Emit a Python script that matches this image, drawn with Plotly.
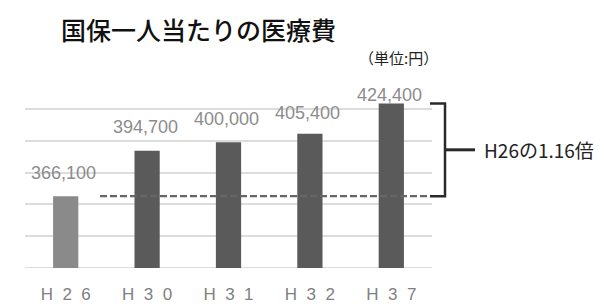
import plotly.graph_objects as go

categories = ["H26", "H30", "H31", "H32", "H37"]
tick_labels = ["H\u00a0\u00a02\u00a0\u00a06", "H\u00a0\u00a03\u00a0\u00a00", "H\u00a0\u00a03\u00a0\u00a01",
               "H\u00a0\u00a03\u00a0\u00a02", "H\u00a0\u00a03\u00a0\u00a07"]
values = [366100, 394700, 400000, 405400, 424400]
value_labels = ["366,100", "394,700", "400,000", "405,400", "424,400"]
ratio_label = "H26の1.16倍"

bar_colors = ["#8a8a8a", "#5a5a5a", "#5a5a5a", "#5a5a5a", "#5a5a5a"]
label_shift = [23, 24, 23, 21, 8]

JP = "Noto Sans CJK JP"
NUM = "Liberation Sans, Arial, sans-serif"

# page body has an 8px margin: figure is drawn 8px right/down of the window origin
W, H = 596, 296
L, R, T, B = 17, 172, 69, 36
PW, PH = W - L - R, H - T - B


def px(xs):
    return (xs - 8 - L) / PW


def py(ys):
    return 1 + (T - (ys - 8)) / PH


fig = go.Figure()
fig.add_trace(go.Bar(x=categories, y=values, marker=dict(color=bar_colors, line=dict(width=0)),
                     width=0.31, hoverinfo="skip"))

for c, v, t, s in zip(categories, values, value_labels, label_shift):
    fig.add_annotation(x=c, y=v, text=t, showarrow=False, yshift=s, xshift=-2,
                       font=dict(family=NUM, size=18, color="#8c8c8c"))

y0, y1 = 321000, 441000
fig.update_layout(
    width=W, height=H,
    margin=dict(l=L, r=R, t=T, b=B, autoexpand=False),
    paper_bgcolor="white", plot_bgcolor="white",
    showlegend=False,
    xaxis=dict(tickmode="array", tickvals=categories, ticktext=tick_labels,
               tickfont=dict(family=NUM, size=17, color="#808080"),
               showgrid=False, zeroline=False, showline=False, ticks="outside",
               ticklen=11, tickcolor="rgba(0,0,0,0)", automargin=False),
    yaxis=dict(range=[y0, y1], tick0=y0, dtick=20000, showticklabels=False,
               showgrid=True, gridcolor="#dcdcdc", gridwidth=1.5, zeroline=False),
)

fig.add_shape(type="line", xref="paper", yref="y", x0=0, x1=1, y0=y0, y1=y0,
              line=dict(color="#d0d0d0", width=1.5), layer="below")
fig.add_shape(type="line", xref="paper", yref="y", x0=px(100), x1=px(428), y0=values[0], y1=values[0],
              line=dict(color="#666666", width=2.2, dash="7px,3px"))
mid = (values[0] + values[-1]) / 2
bx0, bx1 = px(430), px(445)
fig.add_shape(type="path", xref="paper", yref="y",
              path=f"M {bx0},{values[-1]} L {bx1},{values[-1]} L {bx1},{values[0]} L {bx0},{values[0]}",
              line=dict(color="#2a2a2a", width=2.5))
fig.add_shape(type="line", xref="paper", yref="y", x0=bx1, x1=px(475), y0=mid, y1=mid,
              line=dict(color="#2a2a2a", width=3))
fig.add_annotation(xref="paper", yref="y", x=px(482), y=mid, xanchor="left", text=ratio_label,
                   showarrow=False, font=dict(family=JP, size=19, color="#222222"))

fig.add_annotation(xref="paper", yref="paper", x=px(198), y=py(29),
                   text="国保一人当たりの医療費", showarrow=False, xanchor="center", yanchor="middle",
                   font=dict(family=JP, size=25, color="#111111", weight=500))
fig.add_annotation(xref="paper", yref="paper", x=px(398), y=py(57),
                   text="（単位:円）", showarrow=False, xanchor="center", yanchor="middle",
                   font=dict(family=JP, size=15, color="#222222"))

fig.write_html("out.html")
